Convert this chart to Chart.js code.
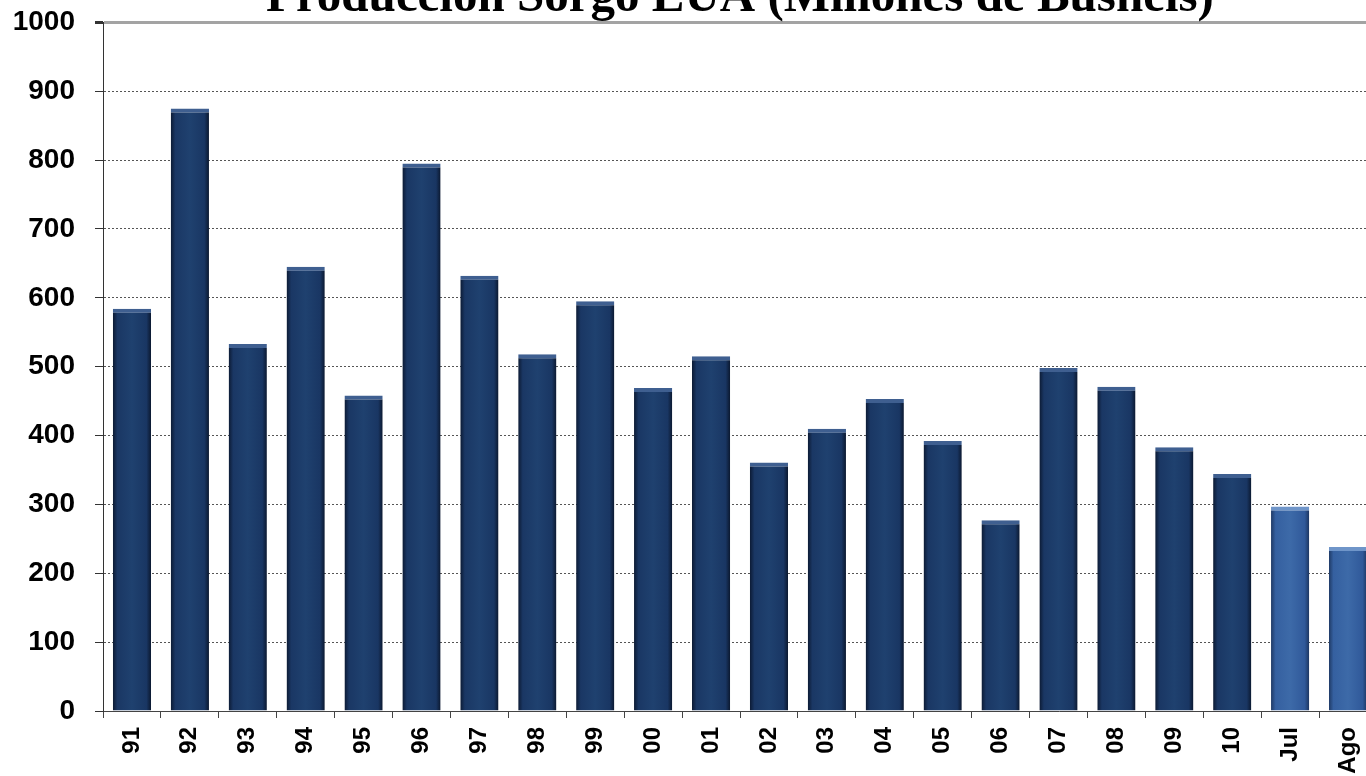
<!DOCTYPE html>
<html>
<head>
<meta charset="utf-8">
<script src="https://cdn.jsdelivr.net/npm/chart.js@4.4.1/dist/chart.umd.min.js"></script>
<style>
  html, body { margin: 0; padding: 0; background: #fff; overflow: hidden; width: 1366px; height: 776px; }
  #wrap { position: absolute; left: 0; top: -16px; width: 1480px; height: 792px; }
</style>
</head>
<body>
<div id="wrap"><canvas id="chartSorgo"></canvas></div>
<script>
var titleText = 'Producción Sorgo EUA (Millones de Bushels)';
var categories = ['91','92','93','94','95','96','97','98','99','00','01','02','03','04','05','06','07','08','09','10','Jul','Ago'];
var produccion = [584, 875, 533, 645, 458, 795, 632, 518, 595, 469, 515, 361, 410, 453, 392, 277, 498, 471, 383, 344, 297, 238];
var estimados = ['Jul', 'Ago'];
var yTicks = [0, 100, 200, 300, 400, 500, 600, 700, 800, 900, 1000];

var tickFont = { family: 'Liberation Sans, Arial, sans-serif', size: 28, weight: 'bold' };
var catFont = 'bold 24px "Liberation Sans", Arial, sans-serif';

function barFill(c) {
  var chart = c.chart, x = chart.scales.x;
  var light = estimados.indexOf(categories[c.dataIndex]) >= 0;
  if (!x || c.dataIndex === undefined || !x.width) return light ? '#3763a0' : '#1d3d6c';
  var cx = x.getPixelForValue(c.dataIndex);
  var half = x.width / categories.length * 0.66 / 2;
  var g = chart.ctx.createLinearGradient(cx - half, 0, cx + half, 0);
  if (light) {
    g.addColorStop(0, '#1f3a66'); g.addColorStop(0.12, '#3560a0');
    g.addColorStop(0.5, '#3d6aa8'); g.addColorStop(0.88, '#30599a'); g.addColorStop(1, '#1c3560');
  } else {
    g.addColorStop(0, '#0c1a33'); g.addColorStop(0.12, '#1a3764');
    g.addColorStop(0.5, '#1f416f'); g.addColorStop(0.88, '#193663'); g.addColorStop(1, '#0b182f');
  }
  return g;
}

// x labels read bottom-to-top, drawn at the category centres of the x scale
var rotatedLabels = {
  id: 'rotatedLabels',
  afterDraw: function (chart) {
    var x = chart.scales.x, ctx = chart.ctx;
    ctx.save();
    ctx.font = catFont;
    ctx.fillStyle = '#000';
    ctx.textAlign = 'right';
    ctx.textBaseline = 'middle';
    categories.forEach(function (lab, i) {
      ctx.save();
      ctx.translate(x.getPixelForTick(i), x.top + 16);
      ctx.rotate(-Math.PI / 2);
      ctx.fillText(lab, 0, 0);
      ctx.restore();
    });
    ctx.restore();
  }
};

new Chart(document.getElementById('chartSorgo'), {
  type: 'bar',
  data: {
    labels: categories,
    datasets: [{
      data: produccion,
      backgroundColor: barFill,
      borderColor: function (c) { return estimados.indexOf(categories[c.dataIndex]) >= 0 ? '#6f95c9' : '#3f5f90'; },
      borderWidth: { top: 4, left: 0, right: 0, bottom: 0 },
      borderSkipped: false,
      barPercentage: 0.66,
      categoryPercentage: 1
    }]
  },
  options: {
    responsive: true,
    maintainAspectRatio: false,
    animation: false,
    plugins: {
      legend: { display: false },
      tooltip: { enabled: false },
      title: {
        display: true, text: titleText, color: '#000',
        font: { family: 'Liberation Serif, Times New Roman, serif', size: 49, weight: 'bold', lineHeight: 0.6 },
        padding: { top: 0, bottom: 9 }
      }
    },
    scales: {
      x: {
        grid: { drawOnChartArea: false, drawTicks: true, tickLength: 7, color: '#444', offset: true },
        border: { color: '#444', width: 1 },
        ticks: { display: false },
        afterFit: function (s) { s.height = 65; }
      },
      y: {
        min: 0, max: 1000,
        afterBuildTicks: function (s) { s.ticks = yTicks.map(function (v) { return { value: v }; }); },
        ticks: { color: '#000', font: tickFont, padding: 20, callback: function (v) { return String(v); } },
        grid: {
          tickLength: 8,
          color: function (c) { return c.tick && c.tick.value === 1000 ? '#a3a3a3' : '#555'; },
          lineWidth: function (c) { return c.tick && c.tick.value === 1000 ? 3 : 1; },
          tickColor: '#333'
        },
        border: { color: '#333', width: 1, dash: function (c) { return c.tick && c.tick.value === 1000 ? [] : [2, 2]; } },
        afterFit: function (s) { s.width = 103; }
      },
      yRight: {
        type: 'linear', position: 'right', display: true,
        grid: { display: false, drawTicks: false },
        border: { display: false },
        ticks: { display: false },
        afterFit: function (s) { s.width = 103; }
      }
    }
  },
  plugins: [rotatedLabels]
});
</script>
</body>
</html>
